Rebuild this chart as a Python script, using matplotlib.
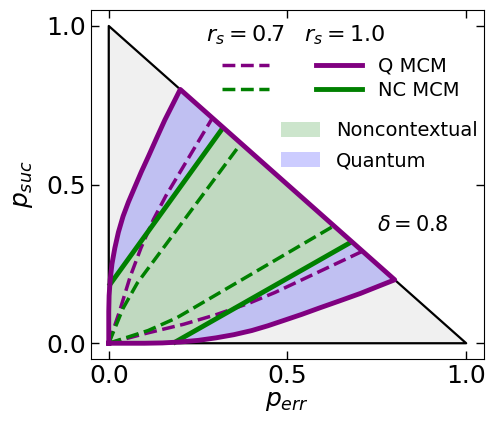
import matplotlib
matplotlib.use("Agg")
import matplotlib.pyplot as plt
from matplotlib.lines import Line2D
from matplotlib.patches import Patch

# ---- data ----
tri_x = [0, 1, 0, 0]
tri_y = [0, 0, 1, 0]

# Quantum MCM boundary, r_s = 1.0 (upper-left curve and lower-right curve)
q_up_x = [0, 0, 0.001, 0.004, 0.009, 0.017, 0.027, 0.040, 0.055, 0.072,
          0.091, 0.111, 0.134, 0.157, 0.179, 0.2]
q_up_y = [0, 0.10, 0.15, 0.20, 0.25, 0.30, 0.35, 0.40, 0.445, 0.49,
          0.54, 0.589, 0.647, 0.704, 0.753, 0.8]
q_lo_x = [0, 0.10, 0.15, 0.20, 0.25, 0.30, 0.35, 0.40, 0.445, 0.49,
          0.54, 0.589, 0.647, 0.704, 0.753, 0.8]
q_lo_y = [0, 0, 0.001, 0.004, 0.009, 0.017, 0.027, 0.040, 0.055, 0.072,
          0.091, 0.111, 0.134, 0.157, 0.179, 0.2]

# NC MCM boundary, r_s = 1.0
nc_up_x = [0, 0.32]
nc_up_y = [0.18, 0.68]
nc_lo_x = [0.18, 0.68]
nc_lo_y = [0, 0.32]

# Quantum MCM, r_s = 0.7
q7_up_x = [0, 0.03, 0.06, 0.09, 0.125, 0.16, 0.29]
q7_up_y = [0, 0.10, 0.21, 0.30, 0.39, 0.465, 0.71]
q7_lo_x = [0, 0.10, 0.21, 0.30, 0.39, 0.465, 0.71]
q7_lo_y = [0, 0.03, 0.06, 0.09, 0.125, 0.16, 0.29]

# NC MCM, r_s = 0.7
nc7_up_x = [0, 0.04, 0.08, 0.37]
nc7_up_y = [0, 0.11, 0.19, 0.63]
nc7_lo_x = [0, 0.11, 0.19, 0.63]
nc7_lo_y = [0, 0.04, 0.08, 0.37]

ticks = [0.0, 0.5, 1.0]
tick_labels = ["0.0", "0.5", "1.0"]
delta_label = r"$\delta = 0.8$"

PURPLE = "purple"
GREEN = "green"

fig = plt.figure(figsize=(4.86, 4.21), dpi=100)
ax = fig.add_axes([0.187, 0.147, 0.809, 0.829])

# gray triangle
ax.fill(tri_x, tri_y, color="#f0f0f0", lw=0, zorder=1)
ax.plot(tri_x, tri_y, color="black", lw=1.6, zorder=2)

# quantum region
qx = q_up_x + q_lo_x[::-1]
qy = q_up_y + q_lo_y[::-1]
ax.fill(qx, qy, color="blue", alpha=0.2, lw=0, zorder=3)

# noncontextual region
ncx = [0] + nc_up_x + nc_lo_x[::-1] + [0]
ncy = [0] + nc_up_y + nc_lo_y[::-1] + [0]
ax.fill(ncx, ncy, color="#f0f0f0", lw=0, zorder=4)
ax.fill(ncx, ncy, color="green", alpha=0.2, lw=0, zorder=5)

# r_s = 0.7 dashed
ax.plot(q7_up_x, q7_up_y, color=PURPLE, lw=2.5, ls="--", zorder=6)
ax.plot(q7_lo_x, q7_lo_y, color=PURPLE, lw=2.5, ls="--", zorder=6)
ax.plot(nc7_up_x, nc7_up_y, color=GREEN, lw=2.5, ls="--", zorder=6)
ax.plot(nc7_lo_x, nc7_lo_y, color=GREEN, lw=2.5, ls="--", zorder=6)

# r_s = 1.0 solid
ax.plot(nc_up_x, nc_up_y, color=GREEN, lw=3.5, zorder=7, solid_capstyle="butt")
ax.plot(nc_lo_x, nc_lo_y, color=GREEN, lw=3.5, zorder=7, solid_capstyle="butt")
ax.plot(qx + [qx[0]], qy + [qy[0]], color=PURPLE, lw=3.5, zorder=8)

ax.text(0.75, 0.373, delta_label, fontsize=15, va="center", ha="left")

ax.set_xlim(-0.05, 1.05)
ax.set_ylim(-0.05, 1.05)
ax.set_xticks(ticks)
ax.set_xticklabels(tick_labels)
ax.set_yticks(ticks)
ax.set_yticklabels(tick_labels)
ax.tick_params(direction="in", top=True, right=True, labelsize=18, length=6, width=1)
ax.set_xlabel(r"$p_{err}$", fontsize=18, labelpad=1)
ax.set_ylabel(r"$p_{suc}$", fontsize=18, labelpad=8)

# legend 1: line styles
h1 = [Line2D([], [], color=PURPLE, lw=2.5, ls="--"),
      Line2D([], [], color=GREEN, lw=2.5, ls="--"),
      Line2D([], [], color=PURPLE, lw=3.5),
      Line2D([], [], color=GREEN, lw=3.5)]
leg1 = ax.legend(h1, ["", "", "Q MCM", "NC MCM"], ncol=2, frameon=False,
                 fontsize=14, loc="upper left", bbox_to_anchor=(0.30, 0.905),
                 handlelength=2.4, columnspacing=1.6, handletextpad=0.8,
                 labelspacing=0.25, borderpad=0.2)
ax.add_artist(leg1)
ax.text(0.394, 0.928, r"$r_s = 0.7$", transform=ax.transAxes, fontsize=16,
        ha="center", va="center")
ax.text(0.644, 0.928, r"$r_s = 1.0$", transform=ax.transAxes, fontsize=16,
        ha="center", va="center")

h2 = [Patch(facecolor="green", alpha=0.2), Patch(facecolor="blue", alpha=0.2)]
ax.legend(h2, ["Noncontextual", "Quantum"], frameon=False, fontsize=14,
          loc="upper left", bbox_to_anchor=(0.45, 0.72), handlelength=2.0,
          handleheight=0.8, labelspacing=0.55, handletextpad=0.8, borderpad=0.2)

fig.savefig("out.png", dpi=100)
